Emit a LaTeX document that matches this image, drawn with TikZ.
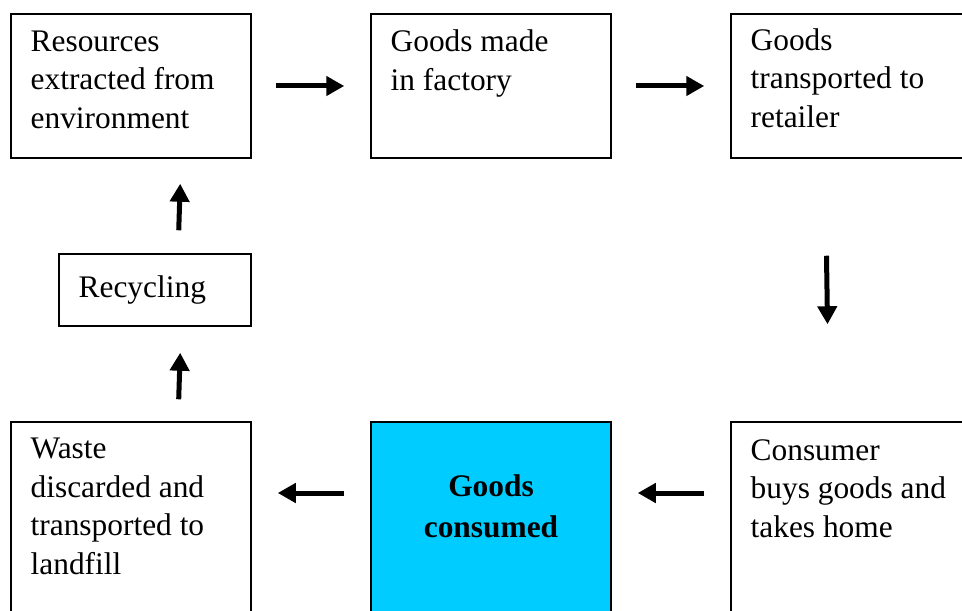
\documentclass[tikz,border=0pt]{standalone}
\usepackage{fontspec}
\setmainfont{Liberation Serif}
\usetikzlibrary{arrows.meta}

\begin{document}
\begin{tikzpicture}[
    x=0.5pt, y=-0.5pt,
    box/.style={rectangle, draw, line width=0.75pt, minimum width=120pt, minimum height=72pt, inner sep=0pt},
    txt/.style={anchor=base west, align=left, inner sep=0pt, font=\fontsize{15.7pt}{19.3pt}\selectfont},
    flow/.style={line width=2.5pt, -{Triangle[length=9pt,width=9.5pt]}}
]
\useasboundingbox (0,0) rectangle (962,610);
\clip (0,0) rectangle (962,610);

% Define boxes
\node[box] (res) at (131, 86) {};
\node[box] (fac) at (491, 86) {};
\node[box] (ret) at (851, 86) {};
\node[box, minimum width=96pt, minimum height=36pt] (rec) at (155, 290) {};
\node[box, minimum height=100pt] (waste) at (131, 522) {};
\node[box, minimum height=100pt, fill={rgb,255:red,0;green,204;blue,255}] (used) at (491, 522) {};
\node[box, minimum height=100pt] (con) at (851, 522) {};

% Texts (base = last line)
\node[txt] (restxt) at ([shift={(20,115)}]res.north west) {Resources\\extracted from\\environment};
\node[txt] (factxt) at ([shift={(20,77)}]fac.north west) {Goods made\\in factory};
\node[txt] (rettxt) at ([shift={(20,114)}]ret.north west) {Goods\\transported to\\retailer};
\node[txt] (rectxt) at ([shift={(20,7)}]rec.west) {Recycling};
\node[txt] (wastetxt) at ([shift={(20,153)}]waste.north west) {Waste\\discarded and\\transported to\\landfill};
\node[txt, anchor=base, align=center, font=\fontsize{15.7pt}{20.5pt}\selectfont\bfseries] (usedtxt) at ([shift={(0,116)}]used.north) {Goods\\consumed};
\node[txt] (contxt) at ([shift={(20,116)}]con.north west) {Consumer\\buys goods and\\takes home};

% Define flows
\draw[flow, shorten <=12pt, shorten >=13pt] (res.east) -- (fac.west);
\draw[flow, shorten <=12pt, shorten >=13pt] (fac.east) -- (ret.west);
\draw[flow, shorten <=48.5pt, shorten >=48.5pt] ([shift={(-26,0)}]ret.south) -- ([shift={(-22,0)}]con.north);
\draw[flow, shorten <=13pt, shorten >=13pt] ([shift={(0,-29)}]con.west) -- ([shift={(0,-29)}]used.east);
\draw[flow, shorten <=13pt, shorten >=13pt] ([shift={(0,-29)}]used.west) -- ([shift={(0,-29)}]waste.east);
\draw[flow, shorten <=11pt, shorten >=13pt] ([shift={(47,0)}]waste.north) -- ([shift={(26,0)}]rec.south);
\draw[flow, shorten <=11.5pt, shorten >=12.5pt] ([shift={(23,0)}]rec.north) -- ([shift={(50,0)}]res.south);

\end{tikzpicture}
\end{document}
